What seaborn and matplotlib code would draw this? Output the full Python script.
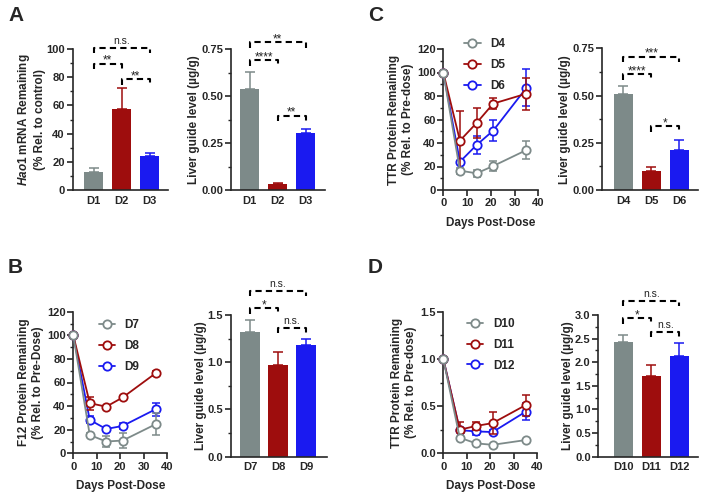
import matplotlib
matplotlib.use('Agg')
import matplotlib.pyplot as plt
import seaborn as sns
import numpy as np
from matplotlib.ticker import AutoMinorLocator, FormatStrFormatter, MultipleLocator

sns.set_style('white')
plt.rcParams['font.family'] = ['Liberation Sans', 'DejaVu Sans']
plt.rcParams['font.weight'] = 'bold'
plt.rcParams['mathtext.fontset'] = 'custom'
plt.rcParams['mathtext.it'] = 'Liberation Sans:italic:bold'
plt.rcParams['mathtext.rm'] = 'Liberation Sans:bold'
plt.rcParams['axes.linewidth'] = 1.2

grey, red, blue = '#7d8a89', '#9e0d0d', '#1a1af0'
colors = [grey, red, blue]

# ---- data ----
days = [0, 7, 14, 21, 35]

# A
a_cats = ['D1', 'D2', 'D3']
a_mrna = [12.5, 57.5, 24.0]
a_mrna_err = [3.0, 14.5, 2.5]
a_guide = [0.535, 0.03, 0.305]
a_guide_err = [0.095, 0.005, 0.02]
a_mrna_sig = [(0, 2, 101, 'n.s.'), (0, 1, 89.5, '**'), (1, 2, 78.5, '**')]
a_guide_sig = [(0, 2, 0.786, '**'), (0, 1, 0.69, '****'), (1, 2, 0.395, '**')]

# C
c_names = ['D4', 'D5', 'D6']
c_d4 = [100, 16.5, 14.2, 20.4, 34.0]
c_d4_err = [0, 2.5, 3.0, 4.5, 7.5]
c_d5 = [100, 42.0, 57.0, 73.5, 82.0]
c_d5_err = [0, 25.0, 13.0, 4.5, 13.5]
c_d6 = [100, 24.0, 38.3, 50.5, 87.0]
c_d6_err = [0, 1.0, 8.0, 9.0, 15.7]
c_guide = [0.508, 0.10, 0.212]
c_guide_err = [0.043, 0.02, 0.053]
c_guide_sig = [(0, 2, 0.706, '***'), (0, 1, 0.614, '****'), (1, 2, 0.339, '*')]

# B
b_names = ['D7', 'D8', 'D9']
b_d7 = [100, 15.5, 10.0, 10.8, 24.6]
b_d7_err = [0, 2.0, 5.0, 6.0, 9.5]
b_d8 = [100, 42.5, 39.5, 47.3, 67.8]
b_d8_err = [0, 5.5, 1.0, 1.5, 2.0]
b_d9 = [100, 28.3, 20.6, 23.2, 37.3]
b_d9_err = [0, 3.0, 1.5, 2.5, 5.5]
b_guide = [1.32, 0.97, 1.18]
b_guide_err = [0.125, 0.14, 0.065]
b_guide_sig = [(0, 2, 1.758, 'n.s.'), (0, 1, 1.57, '*'), (1, 2, 1.366, 'n.s.')]

# D
d_names = ['D10', 'D11', 'D12']
d_d10 = [1.0, 0.165, 0.105, 0.09, 0.14]
d_d10_err = [0, 0.01, 0.01, 0.01, 0.01]
d_d11 = [1.0, 0.25, 0.29, 0.32, 0.51]
d_d11_err = [0, 0.08, 0.045, 0.12, 0.11]
d_d12 = [1.0, 0.245, 0.232, 0.225, 0.44]
d_d12_err = [0, 0.01, 0.04, 0.02, 0.09]
d_guide = [2.43, 1.70, 2.14]
d_guide_err = [0.15, 0.25, 0.27]
d_guide_sig = [(0, 2, 3.30, 'n.s.'), (0, 1, 2.93, '*'), (1, 2, 2.65, 'n.s.')]

W, H = 701, 492
fig = plt.figure(figsize=(7.01, 4.92), dpi=100)


def pos(x0, x1, ytop, ybot):
    return [x0 / W, 1 - ybot / H, (x1 - x0) / W, (ybot - ytop) / H]


def style(ax, ymax, ystep, fmt):
    sns.despine(ax=ax)
    ax.set_ylim(0, ymax)
    ax.yaxis.set_major_locator(MultipleLocator(ystep))
    ax.yaxis.set_minor_locator(AutoMinorLocator(2))
    ax.yaxis.set_major_formatter(FormatStrFormatter(fmt))
    ax.tick_params(axis='y', which='major', direction='out', length=4, width=1.2,
                   labelsize=8, pad=1.5, left=True)
    ax.tick_params(axis='y', which='minor', direction='out', length=2.5, width=1.0, left=True)


def bar_panel(rect, cats, vals, errs, xlim, ymax, ystep, fmt, ylabel, sig):
    ax = fig.add_axes(rect)
    sns.barplot(x=cats, y=vals, hue=cats, palette=colors, saturation=1, width=0.68,
                legend=False, linewidth=0, ax=ax)
    for i in range(len(cats)):
        ax.errorbar(i, vals[i], yerr=[[0], [errs[i]]], fmt='none', ecolor=colors[i],
                    elinewidth=1.1, capsize=3.5, capthick=1.1, zorder=1)
    ax.set_xlim(*xlim)
    style(ax, ymax, ystep, fmt)
    ax.tick_params(axis='x', length=0, labelsize=8, pad=4)
    ax.set_ylabel(ylabel, fontsize=8.5, fontweight='bold', labelpad=0.5)
    h = 0.04 * ymax
    for x1, x2, y, txt in sig:
        ax.plot([x1, x1, x2, x2], [y - h, y, y, y - h], color='k', lw=1.5,
                ls=(0, (3, 2)), clip_on=False)
        if txt.startswith('*'):
            ax.annotate(txt, ((x1 + x2) / 2, y), xytext=(0, 0), textcoords='offset points',
                        ha='center', va='baseline', fontsize=8.5, fontweight='normal',
                        color='#222222', annotation_clip=False)
        else:
            ax.annotate(txt, ((x1 + x2) / 2, y), xytext=(0, 2.5), textcoords='offset points',
                        ha='center', va='baseline', fontsize=7.5, fontweight='normal',
                        color='#222222', annotation_clip=False)
    return ax


def line_panel(rect, series, ymax, ystep, fmt, ylabel, leg_anchor):
    ax = fig.add_axes(rect)
    for k, (name, vals, errs) in enumerate(series):
        c = colors[k]
        z = 5 - k
        ax.errorbar(days, vals, yerr=errs, fmt='none', ecolor=c, elinewidth=1.1,
                    capsize=3, capthick=1.1, zorder=z - 0.5, clip_on=False)
        sns.lineplot(x=days, y=vals, color=c, marker='o', markersize=6,
                     markerfacecolor='white', markeredgecolor=c, markeredgewidth=1.3,
                     lw=1.3, label=name, errorbar=None, zorder=z, clip_on=False, ax=ax)
    ax.set_xlim(0, 40)
    ax.xaxis.set_major_locator(MultipleLocator(10))
    style(ax, ymax, ystep, fmt)
    ax.tick_params(axis='x', which='major', direction='out', length=4, width=1.2,
                   labelsize=8, pad=2, bottom=True)
    ax.set_ylabel(ylabel, fontsize=8.5, fontweight='bold', labelpad=2)
    ax.set_xlabel('Days Post-Dose', fontsize=8.5, fontweight='bold', labelpad=6)
    ax.legend(loc='upper left', bbox_to_anchor=leg_anchor, frameon=False,
              prop={'size': 8.5, 'weight': 'bold'}, handlelength=1.4,
              handletextpad=0.8, labelspacing=0.75, borderaxespad=0)
    return ax


guide_label = 'Liver guide level (\u00b5g/g)'

# A
bar_panel(pos(72.5, 167.7, 49, 190), a_cats, a_mrna, a_mrna_err, (-0.75, 2.65), 100, 20, '%d',
          '$\\mathit{Hao1}$ mRNA Remaining\n(% Rel. to control)', a_mrna_sig)
bar_panel(pos(230.7, 325.3, 49, 190), a_cats, a_guide, a_guide_err, (-0.68, 2.7), 0.75, 0.25,
          '%.2f', guide_label, a_guide_sig)

# C
line_panel(pos(443.3, 538.3, 49, 190),
           [(c_names[0], c_d4, c_d4_err), (c_names[1], c_d5, c_d5_err), (c_names[2], c_d6, c_d6_err)],
           120, 20, '%d', 'TTR Protein Remaining\n(% Rel. to Pre-dose)', (0.17, 1.11))
bar_panel(pos(601.7, 698.3, 48.3, 190), c_names, c_guide, c_guide_err, (-0.77, 2.68), 0.75, 0.25,
          '%.2f', guide_label, c_guide_sig)

# B
line_panel(pos(73.3, 167.3, 311.7, 453.3),
           [(b_names[0], b_d7, b_d7_err), (b_names[1], b_d8, b_d8_err), (b_names[2], b_d9, b_d9_err)],
           120, 20, '%d', 'F12 Protein Remaining\n(% Rel. to Pre-Dose)', (0.22, 0.98))
bar_panel(pos(230.7, 326.7, 315, 456.7), b_names, b_guide, b_guide_err, (-0.69, 2.74), 1.5, 0.5,
          '%.1f', guide_label, b_guide_sig)

# D
line_panel(pos(443.3, 537.3, 311.7, 453.3),
           [(d_names[0], d_d10, d_d10_err), (d_names[1], d_d11, d_d11_err), (d_names[2], d_d12, d_d12_err)],
           1.5, 0.5, '%.1f', 'TTR Protein Remaining\n(% Rel. to Pre-dose)', (0.2, 0.99))
bar_panel(pos(598.3, 698, 315, 456.7), d_names, d_guide, d_guide_err, (-0.89, 2.67), 3.0, 0.5,
          '%.1f', guide_label, d_guide_sig)

for letter, x, y in [('A', 8, 6), ('B', 8, 258), ('C', 368, 6), ('D', 368, 258)]:
    fig.text(x / W, 1 - y / H, letter, fontsize=15, fontweight='bold', ha='left', va='top')

fig.savefig('out.png', dpi=100)
